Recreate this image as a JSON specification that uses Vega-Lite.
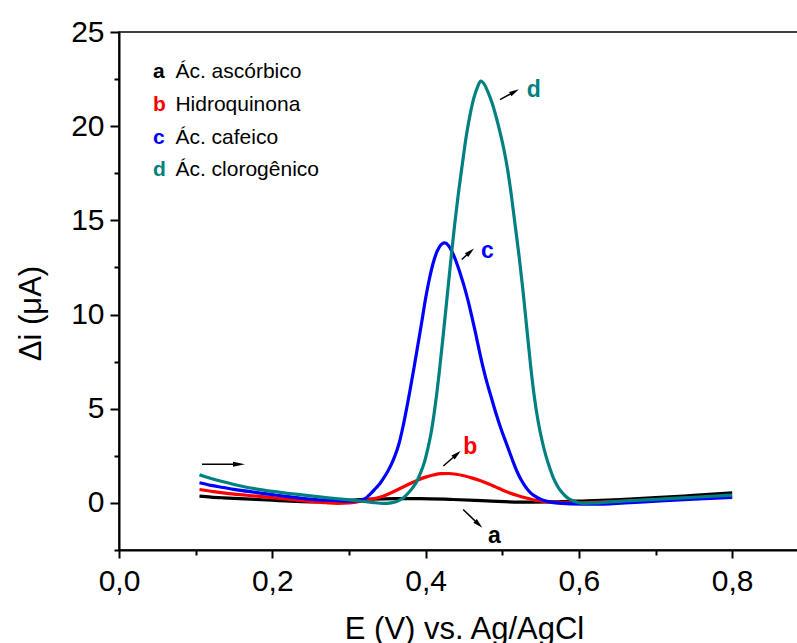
{
  "$schema": "https://vega.github.io/schema/vega-lite/v6.json",
  "width": 680,
  "height": 518,
  "autosize": {"type": "none"},
  "padding": {"left": 119, "top": 32, "right": 0, "bottom": 93},
  "background": "white",
  "config": {
    "view": {"stroke": "black", "strokeWidth": 1.5},
    "font": "Liberation Sans",
    "axis": {"grid": false, "domainColor": "black", "tickColor": "black", "labelColor": "black", "titleColor": "black", "domainWidth": 2, "tickWidth": 2, "labelFont": "Liberation Sans", "titleFont": "Liberation Sans", "labelFontSize": 30, "titleFontSize": 31, "titleFontWeight": "normal", "labelFlush": false, "labelOverlap": false}
  },
  "datasets": {
    "curves": [
      {"s":"a","E":0.105,"I":0.36},{"s":"a","E":0.12,"I":0.31},{"s":"a","E":0.136,"I":0.27},{"s":"a","E":0.15,"I":0.24},{"s":"a","E":0.18,"I":0.18},{"s":"a","E":0.2,"I":0.14},{"s":"a","E":0.223,"I":0.09},{"s":"a","E":0.25,"I":0.06},{"s":"a","E":0.27,"I":0.06},{"s":"a","E":0.29,"I":0.1},{"s":"a","E":0.31,"I":0.16},{"s":"a","E":0.33,"I":0.2},{"s":"a","E":0.36,"I":0.23},{"s":"a","E":0.392,"I":0.23},{"s":"a","E":0.436,"I":0.18},{"s":"a","E":0.48,"I":0.11},{"s":"a","E":0.523,"I":0.04},{"s":"a","E":0.566,"I":0.05},{"s":"a","E":0.61,"I":0.11},{"s":"a","E":0.654,"I":0.18},{"s":"a","E":0.706,"I":0.29},{"s":"a","E":0.75,"I":0.4},{"s":"a","E":0.8,"I":0.53},
      {"s":"b","E":0.105,"I":0.71},{"s":"b","E":0.12,"I":0.62},{"s":"b","E":0.136,"I":0.53},{"s":"b","E":0.15,"I":0.47},{"s":"b","E":0.18,"I":0.36},{"s":"b","E":0.2,"I":0.28},{"s":"b","E":0.223,"I":0.18},{"s":"b","E":0.25,"I":0.08},{"s":"b","E":0.27,"I":0.01},{"s":"b","E":0.285,"I":-0.02},{"s":"b","E":0.3,"I":0.0},{"s":"b","E":0.31,"I":0.05},{"s":"b","E":0.32,"I":0.12},{"s":"b","E":0.33,"I":0.2},{"s":"b","E":0.34,"I":0.3},{"s":"b","E":0.35,"I":0.45},{"s":"b","E":0.36,"I":0.63},{"s":"b","E":0.37,"I":0.83},{"s":"b","E":0.38,"I":1.03},{"s":"b","E":0.39,"I":1.22},{"s":"b","E":0.4,"I":1.37},{"s":"b","E":0.41,"I":1.48},{"s":"b","E":0.42,"I":1.55},{"s":"b","E":0.43,"I":1.56},{"s":"b","E":0.44,"I":1.52},{"s":"b","E":0.45,"I":1.44},{"s":"b","E":0.46,"I":1.33},{"s":"b","E":0.47,"I":1.2},{"s":"b","E":0.48,"I":1.04},{"s":"b","E":0.49,"I":0.87},{"s":"b","E":0.5,"I":0.69},{"s":"b","E":0.51,"I":0.53},{"s":"b","E":0.52,"I":0.39},{"s":"b","E":0.53,"I":0.27},{"s":"b","E":0.54,"I":0.17},{"s":"b","E":0.55,"I":0.1},{"s":"b","E":0.56,"I":0.05},{"s":"b","E":0.575,"I":0.01},{"s":"b","E":0.595,"I":0.0},{"s":"b","E":0.62,"I":0.03},{"s":"b","E":0.66,"I":0.1},{"s":"b","E":0.706,"I":0.18},{"s":"b","E":0.75,"I":0.27},{"s":"b","E":0.8,"I":0.35},
      {"s":"c","E":0.105,"I":1.07},{"s":"c","E":0.12,"I":0.93},{"s":"c","E":0.136,"I":0.82},{"s":"c","E":0.15,"I":0.72},{"s":"c","E":0.18,"I":0.55},{"s":"c","E":0.2,"I":0.44},{"s":"c","E":0.223,"I":0.32},{"s":"c","E":0.25,"I":0.2},{"s":"c","E":0.27,"I":0.14},{"s":"c","E":0.29,"I":0.11},{"s":"c","E":0.305,"I":0.1},{"s":"c","E":0.31,"I":0.11},{"s":"c","E":0.315,"I":0.13},{"s":"c","E":0.32,"I":0.2},{"s":"c","E":0.325,"I":0.36},{"s":"c","E":0.33,"I":0.56},{"s":"c","E":0.335,"I":0.78},{"s":"c","E":0.34,"I":1.0},{"s":"c","E":0.345,"I":1.3},{"s":"c","E":0.35,"I":1.63},{"s":"c","E":0.355,"I":2.02},{"s":"c","E":0.36,"I":2.5},{"s":"c","E":0.365,"I":3.1},{"s":"c","E":0.37,"I":3.95},{"s":"c","E":0.375,"I":4.95},{"s":"c","E":0.38,"I":6.05},{"s":"c","E":0.385,"I":7.2},{"s":"c","E":0.39,"I":8.4},{"s":"c","E":0.395,"I":9.6},{"s":"c","E":0.4,"I":10.85},{"s":"c","E":0.405,"I":11.9},{"s":"c","E":0.41,"I":12.75},{"s":"c","E":0.415,"I":13.35},{"s":"c","E":0.42,"I":13.7},{"s":"c","E":0.425,"I":13.8},{"s":"c","E":0.43,"I":13.65},{"s":"c","E":0.435,"I":13.3},{"s":"c","E":0.44,"I":12.8},{"s":"c","E":0.445,"I":12.2},{"s":"c","E":0.45,"I":11.55},{"s":"c","E":0.455,"I":10.8},{"s":"c","E":0.46,"I":9.95},{"s":"c","E":0.465,"I":9.05},{"s":"c","E":0.47,"I":8.1},{"s":"c","E":0.475,"I":7.2},{"s":"c","E":0.48,"I":6.4},{"s":"c","E":0.485,"I":5.7},{"s":"c","E":0.49,"I":5.0},{"s":"c","E":0.495,"I":4.35},{"s":"c","E":0.5,"I":3.75},{"s":"c","E":0.505,"I":3.2},{"s":"c","E":0.51,"I":2.65},{"s":"c","E":0.515,"I":2.1},{"s":"c","E":0.52,"I":1.6},{"s":"c","E":0.525,"I":1.2},{"s":"c","E":0.53,"I":0.88},{"s":"c","E":0.535,"I":0.62},{"s":"c","E":0.54,"I":0.43},{"s":"c","E":0.545,"I":0.3},{"s":"c","E":0.55,"I":0.2},{"s":"c","E":0.56,"I":0.07},{"s":"c","E":0.57,"I":0.0},{"s":"c","E":0.59,"I":-0.05},{"s":"c","E":0.62,"I":-0.07},{"s":"c","E":0.66,"I":0.0},{"s":"c","E":0.706,"I":0.11},{"s":"c","E":0.75,"I":0.2},{"s":"c","E":0.8,"I":0.29},
      {"s":"d","E":0.105,"I":1.5},{"s":"d","E":0.12,"I":1.3},{"s":"d","E":0.136,"I":1.12},{"s":"d","E":0.15,"I":0.98},{"s":"d","E":0.18,"I":0.73},{"s":"d","E":0.2,"I":0.61},{"s":"d","E":0.223,"I":0.5},{"s":"d","E":0.25,"I":0.37},{"s":"d","E":0.27,"I":0.28},{"s":"d","E":0.29,"I":0.2},{"s":"d","E":0.31,"I":0.12},{"s":"d","E":0.33,"I":0.03},{"s":"d","E":0.345,"I":-0.03},{"s":"d","E":0.355,"I":0.0},{"s":"d","E":0.365,"I":0.12},{"s":"d","E":0.372,"I":0.3},{"s":"d","E":0.378,"I":0.55},{"s":"d","E":0.383,"I":0.8},{"s":"d","E":0.388,"I":1.1},{"s":"d","E":0.393,"I":1.55},{"s":"d","E":0.398,"I":2.1},{"s":"d","E":0.403,"I":2.9},{"s":"d","E":0.408,"I":3.9},{"s":"d","E":0.413,"I":5.3},{"s":"d","E":0.418,"I":7.0},{"s":"d","E":0.423,"I":8.9},{"s":"d","E":0.428,"I":10.9},{"s":"d","E":0.433,"I":12.9},{"s":"d","E":0.438,"I":14.8},{"s":"d","E":0.443,"I":16.5},{"s":"d","E":0.448,"I":18.0},{"s":"d","E":0.453,"I":19.45},{"s":"d","E":0.458,"I":20.6},{"s":"d","E":0.463,"I":21.5},{"s":"d","E":0.468,"I":22.1},{"s":"d","E":0.472,"I":22.4},{"s":"d","E":0.477,"I":22.2},{"s":"d","E":0.482,"I":21.75},{"s":"d","E":0.487,"I":21.2},{"s":"d","E":0.492,"I":20.5},{"s":"d","E":0.497,"I":19.7},{"s":"d","E":0.502,"I":18.8},{"s":"d","E":0.507,"I":17.7},{"s":"d","E":0.512,"I":16.3},{"s":"d","E":0.517,"I":14.7},{"s":"d","E":0.522,"I":13.1},{"s":"d","E":0.527,"I":11.3},{"s":"d","E":0.532,"I":9.3},{"s":"d","E":0.537,"I":7.3},{"s":"d","E":0.542,"I":5.6},{"s":"d","E":0.547,"I":4.3},{"s":"d","E":0.552,"I":3.3},{"s":"d","E":0.557,"I":2.5},{"s":"d","E":0.562,"I":1.85},{"s":"d","E":0.567,"I":1.3},{"s":"d","E":0.572,"I":0.9},{"s":"d","E":0.577,"I":0.6},{"s":"d","E":0.582,"I":0.38},{"s":"d","E":0.587,"I":0.22},{"s":"d","E":0.595,"I":0.08},{"s":"d","E":0.605,"I":-0.02},{"s":"d","E":0.62,"I":0.0},{"s":"d","E":0.64,"I":0.06},{"s":"d","E":0.66,"I":0.1},{"s":"d","E":0.706,"I":0.2},{"s":"d","E":0.75,"I":0.3},{"s":"d","E":0.8,"I":0.41}
    ],
    "legend": [
      {"s":"a","name":"Ác. ascórbico","lx":0.0444,"tx":0.0736,"ly":22.58},
      {"s":"b","name":"Hidroquinona","lx":0.0444,"tx":0.0736,"ly":20.83},
      {"s":"c","name":"Ác. cafeico","lx":0.0444,"tx":0.0736,"ly":19.08},
      {"s":"d","name":"Ác. clorogênico","lx":0.0444,"tx":0.0736,"ly":17.34}
    ],
    "labels": [
      {"s":"a","x":0.4814,"y":-2.12},
      {"s":"b","x":0.4492,"y":2.62},
      {"s":"c","x":0.4723,"y":13.0},
      {"s":"d","x":0.5319,"y":21.55}
    ],
    "arrows": [
      {"id":"scan","x":0.1083,"y":2.05,"x2":0.1566,"y2":2.05},
      {"id":"a","x":0.449,"y":-0.35,"x2":0.4693,"y2":-1.14},
      {"id":"b","x":0.4232,"y":1.96,"x2":0.4408,"y2":2.585},
      {"id":"c","x":0.4471,"y":12.92,"x2":0.4583,"y2":13.33},
      {"id":"d","x":0.4971,"y":21.41,"x2":0.5161,"y2":21.83}
    ]
  },
  "layer": [
    {
      "data": {"name": "curves"},
      "mark": {"type": "line", "strokeWidth": 3.2, "interpolate": "monotone"},
      "encoding": {
        "x": {"field": "E", "type": "quantitative",
          "scale": {"domain": [0, 0.8872], "nice": false, "zero": false},
          "axis": {"title": "E (V) vs. Ag/AgCl", "values": [0,0.1,0.2,0.3,0.4,0.5,0.6,0.7,0.8],
            "labelExpr": "round(datum.value*10) % 2 == 0 ? replace(format(datum.value, '.1f'), '.', ',') : ''",
            "tickSize": {"condition": {"test": "round(datum.value*10) % 2 == 0", "value": 8}, "value": 5},
            "labelPadding": 8, "titleX": 345, "titleY": 88, "titleBaseline": "alphabetic", "titleAlign": "center"}},
        "y": {"field": "I", "type": "quantitative",
          "scale": {"domain": [-2.5, 25], "nice": false, "zero": false},
          "axis": {"title": "Δi (μA)", "values": [-2.5,0,2.5,5,7.5,10,12.5,15,17.5,20,22.5,25],
            "labelExpr": "datum.value % 5 == 0 ? format(datum.value, 'd') : ''",
            "tickSize": {"condition": {"test": "datum.value % 5 == 0", "value": 9}, "value": 5},
            "labelPadding": 6, "titleX": -79, "titleY": 281, "titleAngle": 270, "titleBaseline": "alphabetic", "titleAlign": "center"}},
        "color": {"field": "s", "type": "nominal", "legend": null,
          "scale": {"domain": ["a","b","c","d"], "range": ["#000000","#FF0000","#0000FF","#008080"]}},
        "order": {"field": "E"}
      }
    },
    {
      "data": {"name": "legend"},
      "mark": {"type": "text", "align": "left", "baseline": "alphabetic", "fontSize": 21, "fontWeight": "bold", "font": "Liberation Sans"},
      "encoding": {
        "x": {"field": "lx", "type": "quantitative"},
        "y": {"field": "ly", "type": "quantitative"},
        "text": {"field": "s"},
        "color": {"field": "s", "type": "nominal", "legend": null}
      }
    },
    {
      "data": {"name": "legend"},
      "mark": {"type": "text", "align": "left", "baseline": "alphabetic", "fontSize": 21, "color": "black", "font": "Liberation Sans"},
      "encoding": {
        "x": {"field": "tx", "type": "quantitative"},
        "y": {"field": "ly", "type": "quantitative"},
        "text": {"field": "name"}
      }
    },
    {
      "data": {"name": "labels"},
      "mark": {"type": "text", "align": "left", "baseline": "alphabetic", "fontSize": 23, "fontWeight": "bold", "font": "Liberation Sans"},
      "encoding": {
        "x": {"field": "x", "type": "quantitative"},
        "y": {"field": "y", "type": "quantitative"},
        "text": {"field": "s"},
        "color": {"field": "s", "type": "nominal", "legend": null}
      }
    },
    {
      "data": {"name": "arrows"},
      "mark": {"type": "rule", "color": "black", "strokeWidth": 1.5},
      "encoding": {
        "x": {"field": "x", "type": "quantitative"},
        "y": {"field": "y", "type": "quantitative"},
        "x2": {"field": "x2"},
        "y2": {"field": "y2"}
      }
    },
    {
      "data": {"name": "arrows"},
      "transform": [{"filter": "datum.id == 'scan'"}],
      "mark": {"type": "point", "shape": "M0,-1L0.42,1L-0.42,1Z", "filled": true, "color": "black", "opacity": 1, "size": 144, "angle": 90},
      "encoding": {"x": {"field": "x2", "type": "quantitative"}, "y": {"field": "y2", "type": "quantitative"}}
    },
    {
      "data": {"name": "arrows"},
      "transform": [{"filter": "datum.id == 'a'"}],
      "mark": {"type": "point", "shape": "M0,-1L0.5,1L-0.5,1Z", "filled": true, "color": "black", "opacity": 1, "size": 100, "angle": 134},
      "encoding": {"x": {"field": "x2", "type": "quantitative"}, "y": {"field": "y2", "type": "quantitative"}}
    },
    {
      "data": {"name": "arrows"},
      "transform": [{"filter": "datum.id == 'b'"}],
      "mark": {"type": "point", "shape": "M0,-1L0.5,1L-0.5,1Z", "filled": true, "color": "black", "opacity": 1, "size": 100, "angle": 49},
      "encoding": {"x": {"field": "x2", "type": "quantitative"}, "y": {"field": "y2", "type": "quantitative"}}
    },
    {
      "data": {"name": "arrows"},
      "transform": [{"filter": "datum.id == 'c'"}],
      "mark": {"type": "point", "shape": "M0,-1L0.5,1L-0.5,1Z", "filled": true, "color": "black", "opacity": 1, "size": 100, "angle": 48},
      "encoding": {"x": {"field": "x2", "type": "quantitative"}, "y": {"field": "y2", "type": "quantitative"}}
    },
    {
      "data": {"name": "arrows"},
      "transform": [{"filter": "datum.id == 'd'"}],
      "mark": {"type": "point", "shape": "M0,-1L0.5,1L-0.5,1Z", "filled": true, "color": "black", "opacity": 1, "size": 100, "angle": 61},
      "encoding": {"x": {"field": "x2", "type": "quantitative"}, "y": {"field": "y2", "type": "quantitative"}}
    }
  ]
}
